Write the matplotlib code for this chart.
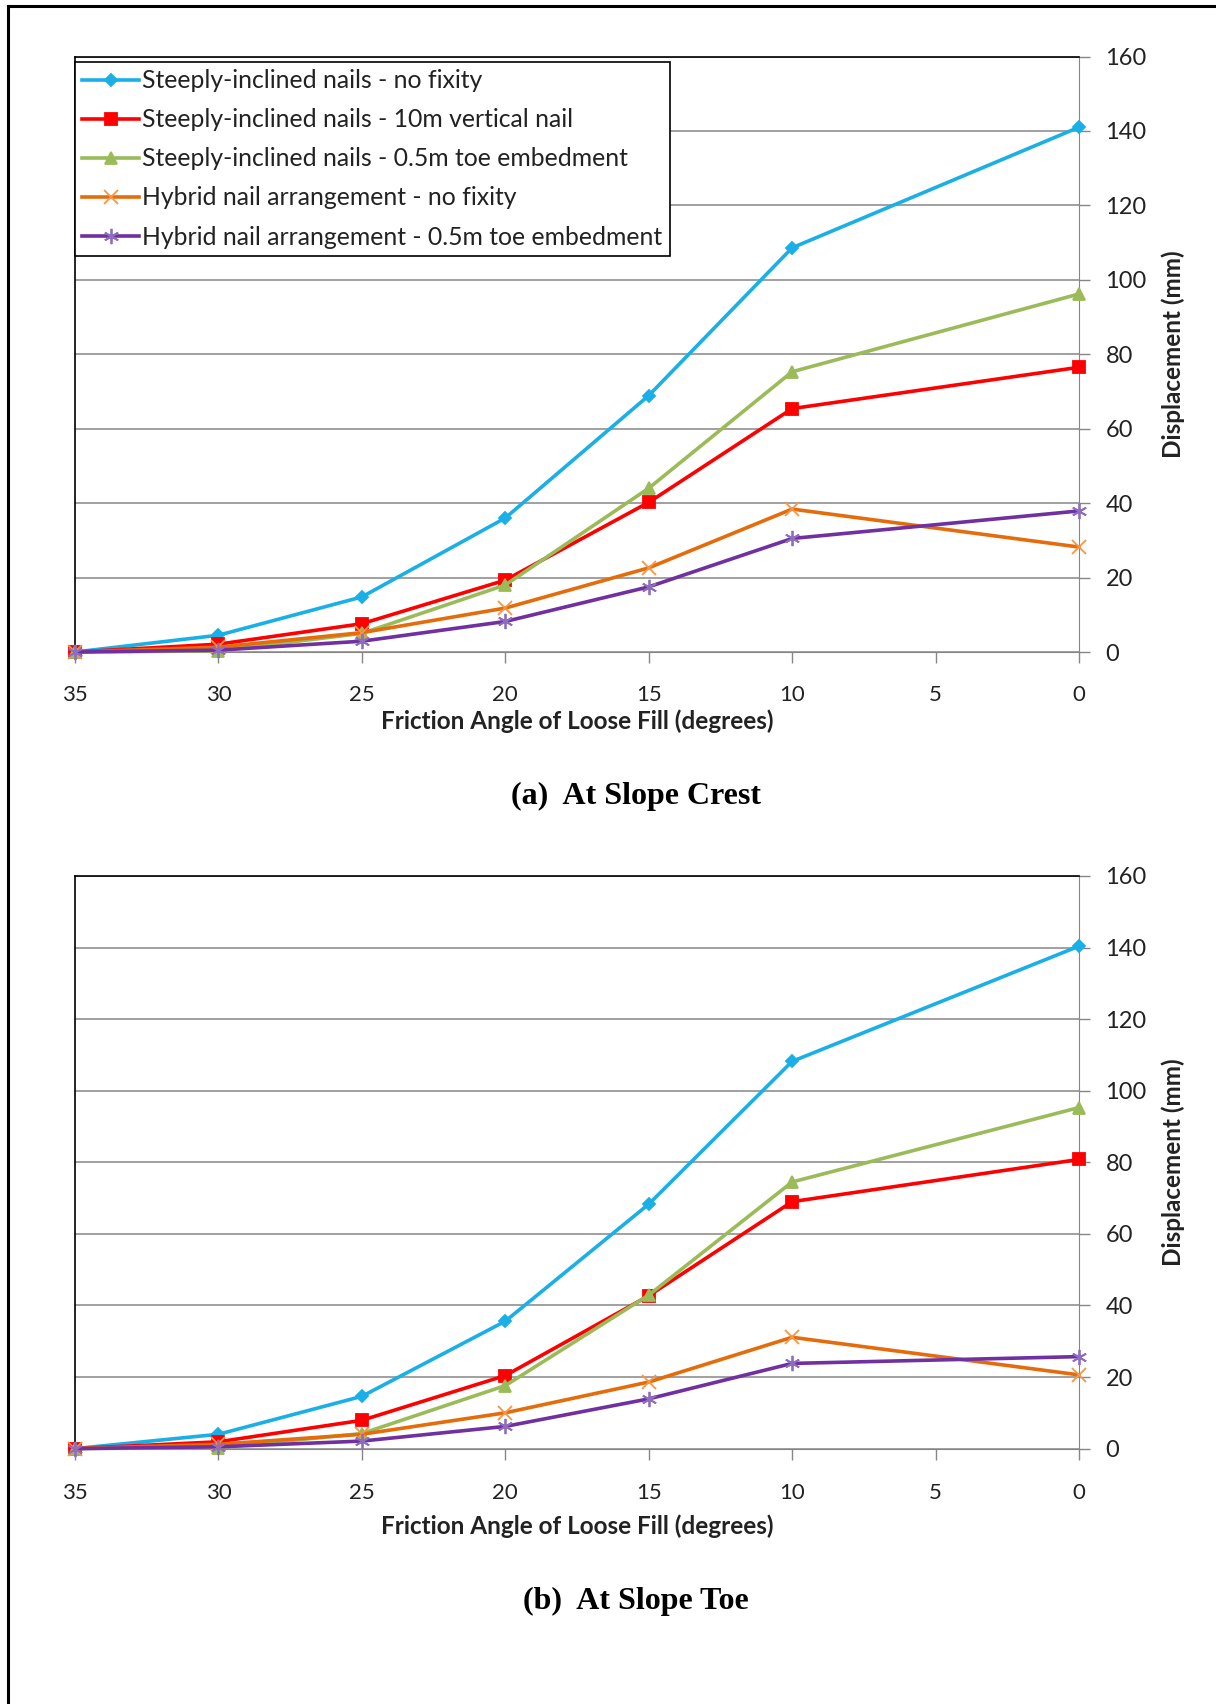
import matplotlib
matplotlib.use("Agg")
import matplotlib.pyplot as plt
from matplotlib.lines import Line2D

plt.rcParams['font.family'] = ['Lato', 'DejaVu Sans']

# ---- data ----
friction_angle = [35, 30, 25, 20, 15, 10, 0]
series_names = [
    "Steeply-inclined nails - no fixity",
    "Steeply-inclined nails - 10m vertical nail",
    "Steeply-inclined nails - 0.5m toe embedment",
    "Hybrid nail arrangement - no fixity",
    "Hybrid nail arrangement - 0.5m toe embedment",
]
crest_no_fixity = [0, 4.5, 14.8, 36.0, 68.9, 108.6, 141.0]
crest_vertical_nail = [0, 2.1, 7.6, 19.3, 40.2, 65.4, 76.5]
crest_toe_embed = [0, 0.3, 5.0, 18.0, 44.0, 75.3, 96.2]
crest_hybrid_no_fixity = [0, 1.3, 5.2, 11.8, 22.6, 38.4, 28.2]
crest_hybrid_toe_embed = [0, 0.5, 2.9, 8.2, 17.5, 30.5, 37.9]

toe_no_fixity = [0, 4.0, 14.6, 35.6, 68.3, 108.2, 140.4]
toe_vertical_nail = [0, 1.9, 7.9, 20.4, 42.7, 69.0, 80.8]
toe_toe_embed = [0, 0.3, 4.2, 17.6, 42.9, 74.5, 95.3]
toe_hybrid_no_fixity = [0, 1.2, 4.0, 10.0, 18.6, 31.1, 20.6]
toe_hybrid_toe_embed = [0, 0.5, 2.1, 6.2, 13.9, 23.8, 25.7]

x_ticks = [35, 30, 25, 20, 15, 10, 5, 0]
y_ticks = [0, 20, 40, 60, 80, 100, 120, 140, 160]

line_colors = ['#1AAFE6', '#FF0000', '#9BBB59', '#E46C0A', '#7030A0']
marker_colors = ['#1AAFE6', '#FF0000', '#9BBB59', '#F79646', '#8E6CC0']
markers = ['D', 's', '^', 'x', (6, 2, 0)]
msizes = [6.5, 9, 9, 10, 11]

W, H = 1216, 1704
fig = plt.figure(figsize=(W / 100, H / 100), dpi=100)

# page border (left and top)
fig.add_artist(Line2D([8 / W, 8 / W], [0, 1 - 6 / H], transform=fig.transFigure, color='black', lw=2.2))
fig.add_artist(Line2D([8 / W, 1], [1 - 6 / H, 1 - 6 / H], transform=fig.transFigure, color='black', lw=2.2))


def make_panel(rect, data, legend, caption, cap_y, xlab_y, xpad):
    ax = fig.add_axes(rect)
    for i, ys in enumerate(data):
        ax.plot(friction_angle, ys, color=line_colors[i], lw=2.6,
                marker=markers[i], ms=msizes[i], mfc=marker_colors[i],
                mec=marker_colors[i], mew=1.3, label=series_names[i],
                clip_on=False, zorder=3 + i)
    ax.set_xlim(35, 0)
    ax.set_ylim(0, 160)
    ax.set_xticks(x_ticks)
    ax.set_yticks(y_ticks)
    ax.yaxis.tick_right()
    ax.grid(axis='y', color='#868686', lw=1.1)
    ax.set_axisbelow(True)
    ax.spines['left'].set_color('black')
    ax.spines['top'].set_color('black')
    ax.spines['left'].set_linewidth(1.2)
    ax.spines['top'].set_linewidth(1.2)
    ax.spines['right'].set_color('#868686')
    ax.spines['bottom'].set_color('#868686')
    ax.tick_params(axis='x', direction='out', length=8, width=1, color='#868686',
                   labelsize=16, pad=xpad, labelcolor='#222222')
    ax.tick_params(axis='y', direction='out', length=8, width=1, color='#868686',
                   labelsize=17, pad=11, labelcolor='#222222', right=True, left=False)
    ax.text(0.5, xlab_y, "Friction Angle of Loose Fill (degrees)", transform=ax.transAxes,
            ha='center', va='center', fontsize=17.5, fontweight='bold', color='#222222')
    ax.text(1.0935, 0.5, "Displacement (mm)", transform=ax.transAxes, rotation=90,
            ha='center', va='center', fontsize=17.5, fontweight='bold', color='#222222')
    if legend:
        leg = ax.legend(loc='upper left', bbox_to_anchor=(0.0, 0.991), borderaxespad=0,
                        fontsize=17.8, frameon=True, fancybox=False, handlelength=2.3,
                        handletextpad=0.12, labelspacing=0.65, borderpad=0.3,
                        facecolor='white', framealpha=1)
        leg.get_frame().set_edgecolor('black')
        leg.get_frame().set_linewidth(1.2)
        for t in leg.get_texts():
            t.set_color('#222222')
    fig.text(636 / W, cap_y, caption, ha='center', va='center',
             fontsize=23, fontweight='bold', family='Liberation Serif')
    return ax


make_panel([75 / W, 1 - 652 / H, 1004 / W, 595.5 / H],
           [crest_no_fixity, crest_vertical_nail, crest_toe_embed,
            crest_hybrid_no_fixity, crest_hybrid_toe_embed],
           True, "(a)  At Slope Crest", 1 - 796 / H, -0.117, 16)
make_panel([75 / W, 1 - 1448.6 / H, 1004 / W, 572.6 / H],
           [toe_no_fixity, toe_vertical_nail, toe_toe_embed,
            toe_hybrid_no_fixity, toe_hybrid_toe_embed],
           False, "(b)  At Slope Toe", 1 - 1601 / H, -0.1348, 16.5)

fig.savefig("out.png", dpi=100)
